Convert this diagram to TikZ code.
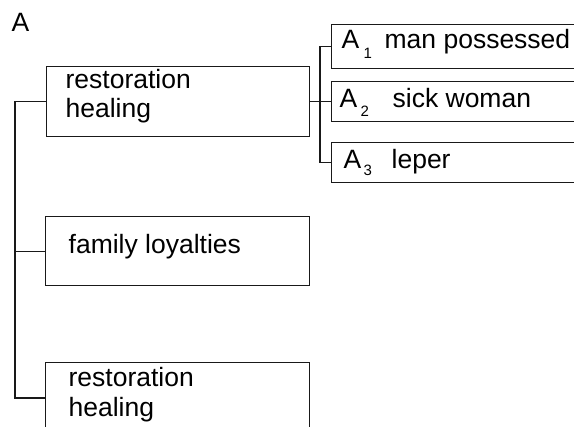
\documentclass[tikz,border=0pt]{standalone}
\usepackage{fontspec}
\setmainfont{Liberation Sans}
\usetikzlibrary{calc}
\begin{document}
\begin{tikzpicture}[x=1pt,y=-1pt,
  line width=1.3pt,
  frame/.style={draw=black!90, rectangle, anchor=north west, inner sep=0pt},
  txt/.style={anchor=base west, inner sep=0pt, font=\fontsize{26.5}{29}\selectfont},
  sub/.style={anchor=base west, inner sep=0pt, font=\fontsize{15}{17}\selectfont},
  link/.style={draw=black!90, line width=1.2pt}]
\useasboundingbox (0,0) rectangle (574,427);
\clip (0,0) rectangle (574,427);

% panel letter
\node[txt] (panel) at (11,32) {A};

% left column of boxes
\node[frame, minimum width=263pt, minimum height=70pt] (b1) at (46,66) {};
\node[frame, minimum width=264pt, minimum height=69pt] (b2) at (45,216) {};
\node[frame, minimum width=264pt, minimum height=90pt] (b3) at (45,362) {};

\node[txt] (b1a) at (65,89) {restoration};
\node[txt] (b1b) at (65,118) {healing};
\node[txt] (b2a) at (68,254) {family loyalties};
\node[txt] (b3a) at (68,387) {restoration};
\node[txt] (b3b) at (68,417) {healing};

% right column of boxes
\node[frame, minimum width=270pt, minimum height=44pt] (a1) at (331,24) {};
\node[frame, minimum width=270pt, minimum height=40pt] (a2) at (331,81) {};
\node[frame, minimum width=270pt, minimum height=40pt] (a3) at (331,142) {};

\node[txt] (a1l) at (341,49) {A};
\node[sub] (a1s) at (363,59) {1};
\node[txt] (a1t) at (384,49) {man possessed};
\node[txt] (a2l) at (339,108) {A};
\node[sub] (a2s) at (360,117) {2};
\node[txt] (a2t) at (392,108) {sick woman};
\node[txt] (a3l) at (343,169) {A};
\node[sub] (a3s) at (363,176) {3};
\node[txt] (a3t) at (391,169) {leper};

% trunk on the left
\coordinate (b3in) at ($(b3.north west)+(0,36)$);
\coordinate (j3) at (15,398);
\draw[link] (b1.west) -| (j3) -- (b3in);
\draw[link] (b2.west) -- (b2.west -| j3);

% bracket on the right
\draw[link] (a1.west) -- ++(-11,0) |- (a3.west);
\draw[link] (b1.east) -- (b1.east -| a2.west);
\end{tikzpicture}
\end{document}
